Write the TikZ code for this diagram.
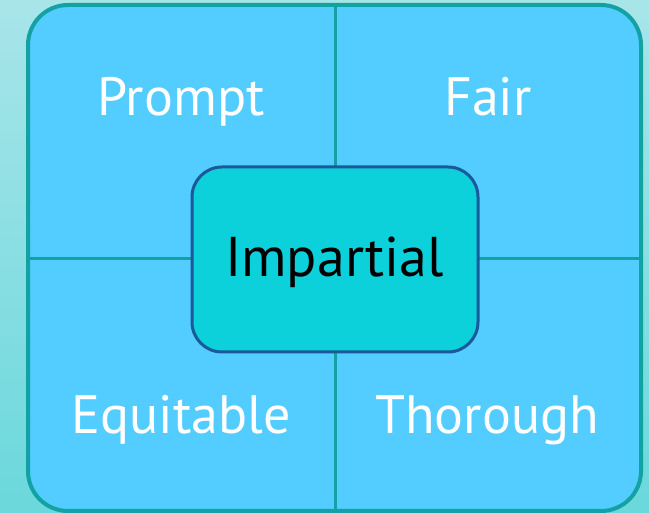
\documentclass[tikz,border=0pt]{standalone}
\usepackage{fontspec}
\setmainfont{PT Sans}
\definecolor{bgtop}{HTML}{A8E5E9}
\definecolor{bgbot}{HTML}{6AD8DC}
\definecolor{panel}{HTML}{53CCFF}
\definecolor{panelline}{HTML}{13A2A4}
\definecolor{centerfill}{HTML}{0CD0DA}
\definecolor{centerline}{HTML}{1A5A9A}
\tikzset{
  quad/.style={text=white, anchor=base, inner sep=0pt, font=\fontsize{54}{60}\selectfont},
  centerbox/.style={draw=centerline, line width=3pt, fill=centerfill, rounded corners=30pt},
  divider/.style={draw=panelline, line width=3pt}
}
\begin{document}
\begin{tikzpicture}[x=1pt,y=-1pt]
\useasboundingbox (0,0) rectangle (649,513);
\shade[top color=bgtop, bottom color=bgbot] (0,0) rectangle (649,513);
\node[draw=panelline, line width=4pt, fill=panel, rounded corners=40pt, minimum width=613pt, minimum height=506pt, inner sep=0pt] (panel) at (334.5,258) {};
\coordinate (vt) at (335,5);
\coordinate (vb) at (335,511);
\coordinate (hl) at (28,259);
\coordinate (hr) at (641,259);
\draw[divider] (vt) -- (vb);
\draw[divider] (hl) -- (hr);
\node[centerbox, minimum width=286pt, minimum height=185pt] (center) at (335,259.5) {};
\node[anchor=base, inner sep=0pt, font=\fontsize{56}{60}\selectfont] (impartial) at (334.5,277) {Impartial};
\node[quad] (prompt) at (181,116) {Prompt};
\node[quad] (fair) at (488,116) {Fair};
\node[quad] (equitable) at (181,434) {Equitable};
\node[quad] (thorough) at (487,434) {Thorough};
\end{tikzpicture}
\end{document}
